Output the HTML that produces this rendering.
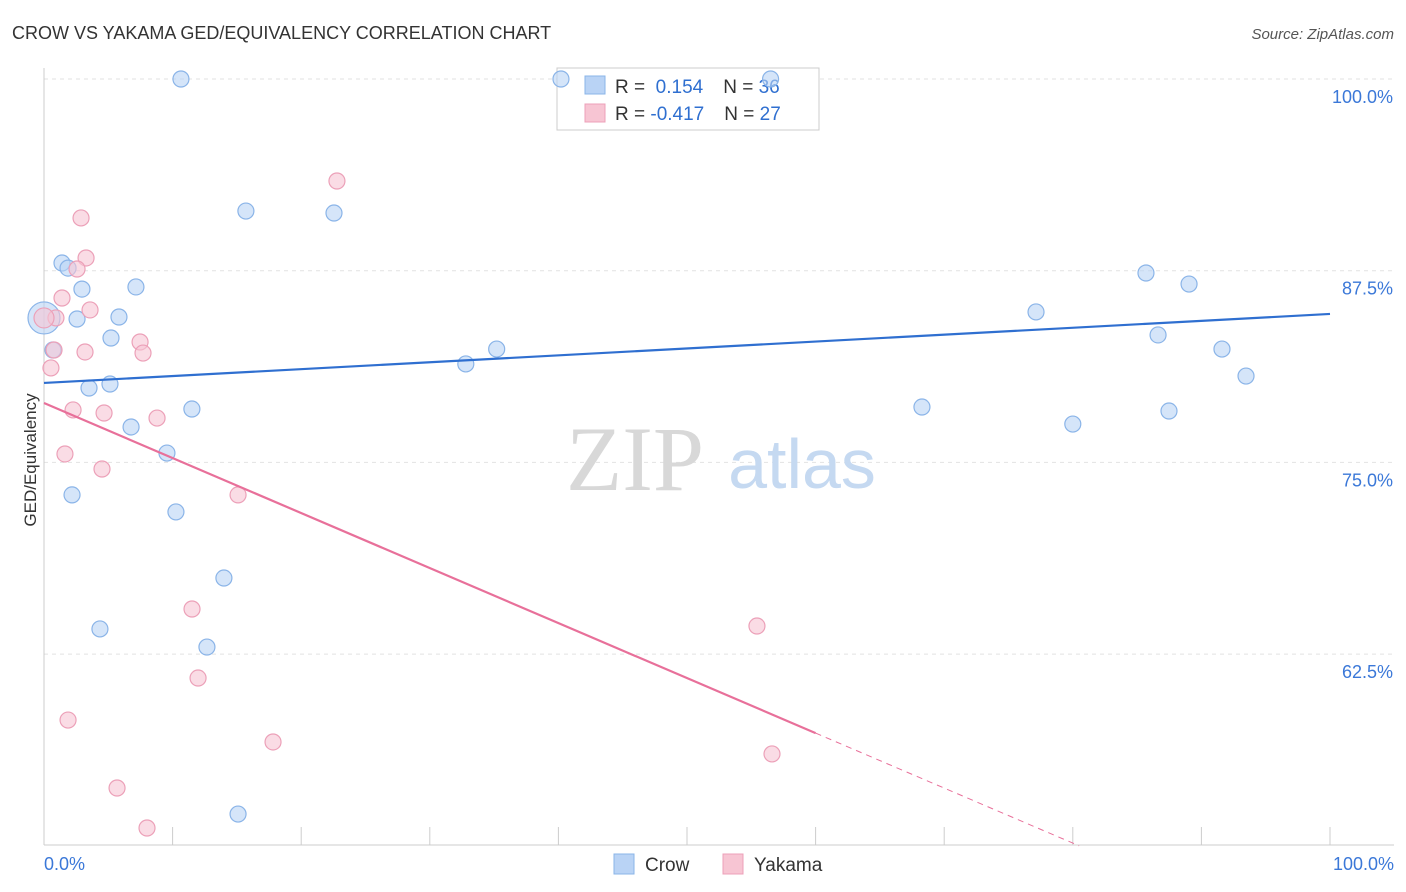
<!DOCTYPE html>
<html><head><meta charset="utf-8"><style>
body{margin:0;background:#fff;font-family:"Liberation Sans",sans-serif}
svg{display:block}
</style></head><body>
<svg id="chart" width="1406" height="892" xmlns="http://www.w3.org/2000/svg">
<text x="12" y="39" font-size="18" fill="#333">CROW VS YAKAMA GED/EQUIVALENCY CORRELATION CHART</text>
<text x="1394" y="39" font-size="15" fill="#555" font-style="italic" text-anchor="end">Source: ZipAtlas.com</text>
<g id="grid"></g>
<g>
<text x="635" y="490" font-size="92" font-family="Liberation Serif,serif" fill="#d8d8d8" text-anchor="middle">ZIP</text>
<text x="802" y="488" font-size="70" fill="#c5d9f1" text-anchor="middle">atlas</text>
</g>
<g>
<rect x="557" y="68" width="262" height="62" fill="#fff" stroke="#ccc"/>
<rect x="585" y="76" width="20" height="18" fill="#b9d3f5" stroke="#8ab4e8"/>
<rect x="585" y="104" width="20" height="18" fill="#f7c5d3" stroke="#eca0b8"/>
<text x="615" y="93" font-size="19" fill="#333">R = <tspan fill="#2f6fd0">&#160;0.154</tspan><tspan dx="20">N = </tspan><tspan fill="#2f6fd0">36</tspan></text>
<text x="615" y="120" font-size="19" fill="#333">R = <tspan fill="#2f6fd0">-0.417</tspan><tspan dx="20">N = </tspan><tspan fill="#2f6fd0">27</tspan></text>
</g>
<g id="pts"></g>
<g id="lines"></g>
<text x="36" y="460" font-size="17" fill="#333" text-anchor="middle" transform="rotate(-90 36 460)">GED/Equivalency</text>
<g>
<rect x="614" y="854" width="20" height="20" fill="#b9d3f5" stroke="#8ab4e8"/>
<text x="645" y="871" font-size="19" fill="#333">Crow</text>
<rect x="723" y="854" width="20" height="20" fill="#f7c5d3" stroke="#eca0b8"/>
<text x="754" y="871" font-size="19" fill="#333">Yakama</text>
</g>
</svg>
<script>
const crowX=[10.65,40.2,56.5,15.7,22.55,1.4,1.87,2.95,7.15,2.57,5.83,5.21,0.7,35.2,32.8,3.5,5.13,11.5,6.77,9.56,2.18,10.26,13.99,4.35,12.67,15.09,77.14,85.69,89.04,86.63,91.6,93.47,68.27,80.0,87.48,0];
const crowY=[100,100,100,91.39,91.26,88.0,87.67,86.3,86.44,84.35,84.48,83.11,82.33,82.39,81.42,79.85,80.11,78.48,77.31,75.61,72.88,71.77,67.46,64.14,62.96,52.07,84.81,87.35,86.63,83.31,82.39,80.63,78.61,77.5,78.35,84.42];
const yakX=[22.78,2.88,3.27,2.57,1.4,3.58,0.93,0.78,3.19,7.47,7.7,0.54,2.26,4.67,8.79,1.63,4.51,15.09,11.51,55.44,11.98,1.87,17.81,56.61,5.68,8.01,0];
const yakY=[93.35,90.94,88.33,87.61,85.72,84.94,84.42,82.33,82.2,82.85,82.13,81.16,78.42,78.22,77.89,75.55,74.57,72.88,65.44,64.33,60.94,58.2,56.77,55.99,53.77,51.16,84.42];
const crowTrend=[80.18,84.68];
const yakTrend=[78.87,57.35];
const yTicks=[100,87.5,75,62.5];
const yTickLabels=["100.0%","87.5%","75.0%","62.5%"];
const xTickLabels=["0.0%","100.0%"];
const NS="http://www.w3.org/2000/svg";
const X=v=>44+v*12.86, Y=v=>79+(100-v)*15.336;
function mk(t,a,p){const e=document.createElementNS(NS,t);for(const k in a)e.setAttribute(k,a[k]);p.appendChild(e);return e;}
const g=document.getElementById('grid');
yTicks.forEach((t,i)=>{
 const l=mk('line',{x1:44,x2:1394,y1:Y(t),y2:Y(t),stroke:'#e2e2e2','stroke-dasharray':'4,4'},g);
 
 
 const tx=mk('text',{x:1393,y:Y(t)+24,'font-size':18,fill:'#3b78d8','text-anchor':'end'},g);
 tx.textContent=yTickLabels[i];
 
 
});
mk('line',{x1:44,x2:44,y1:68,y2:845,stroke:'#ccc'},g);
mk('line',{x1:44,x2:1394,y1:845,y2:845,stroke:'#ccc'},g);
for(let i=0;i<=10;i++){const t=mk('line',{x1:X(i*10),x2:X(i*10),y1:827,y2:845,stroke:'#ccc'},g);
 
 }
const xl0=mk('text',{x:44,y:870,'font-size':18,fill:'#3b78d8'},g);xl0.textContent=xTickLabels[0];


const xl1=mk('text',{x:1394,y:870,'font-size':18,fill:'#3b78d8','text-anchor':'end'},g);xl1.textContent=xTickLabels[1];


const pg=document.getElementById('pts');
crowX.forEach((x,i)=>{const c=mk('circle',{cx:X(x),cy:Y(crowY[i]),r:(x===0?16:8),fill:'rgba(185,211,245,0.6)',stroke:'#8ab4e8','stroke-width':1.2},pg);
 
 });
yakX.forEach((x,i)=>{const c=mk('circle',{cx:X(x),cy:Y(yakY[i]),r:(x===0?10:8),fill:'rgba(247,197,211,0.6)',stroke:'#eca0b8','stroke-width':1.2},pg);
 
 });
const lg=document.getElementById('lines');
const cl=mk('line',{x1:X(0),y1:Y(crowTrend[0]),x2:X(100),y2:Y(crowTrend[1]),stroke:'#2f6fd0','stroke-width':2.2},lg);


const ys=x=>yakTrend[0]+(yakTrend[1]-yakTrend[0])*x/60;
const yl=mk('line',{x1:X(0),y1:Y(ys(0)),x2:X(60),y2:Y(ys(60)),stroke:'#e8709a','stroke-width':2.2},lg);


let xe=(50-yakTrend[0])/((yakTrend[1]-yakTrend[0])/60);
const yd=mk('line',{x1:X(60),y1:Y(ys(60)),x2:X(xe),y2:Y(ys(xe)),stroke:'#e8709a','stroke-width':1,'stroke-dasharray':'6,5'},lg);


</script>
</body></html>
